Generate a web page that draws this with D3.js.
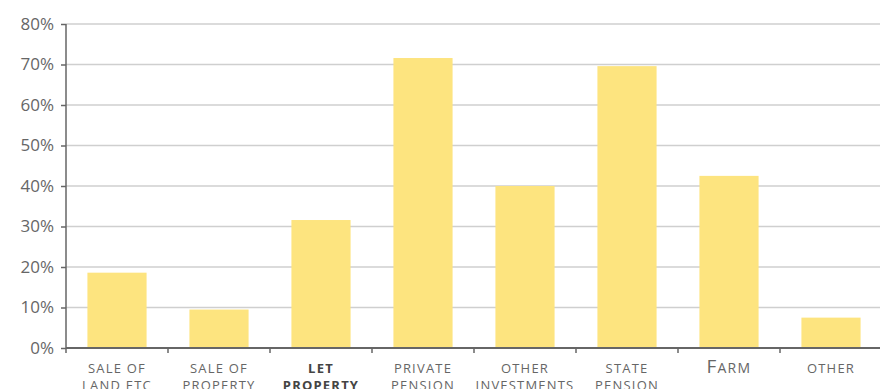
<!DOCTYPE html>
<html><head><meta charset="utf-8">
<script src="https://cdn.jsdelivr.net/npm/d3@7"></script>
<style>body{margin:0;background:#fff;overflow:hidden}</style>
</head><body>
<script>
const categories = ["Sale of|land etc","Sale of|property","Let|property","Private|pension","Other|investments","State|pension","Farm","Other"];
const values = [18.6, 9.5, 31.6, 71.6, 40.0, 69.6, 42.5, 7.5];
const boldCats = ["Let|property"];
const yTicks = [0,10,20,30,40,50,60,70,80];

const W = 880, H = 389;
const m = {l:66, r:0, t:24, b:41};
const svg = d3.select("body").append("svg").attr("width",W).attr("height",H);
const x = d3.scaleBand().domain(categories).range([m.l, 882]).padding(0);
const y = d3.scaleLinear().domain([0,80]).range([H-m.b, m.t]);

// gridlines
svg.append("g").selectAll("line").data(yTicks.filter(d=>d>0)).join("line")
  .attr("x1",m.l).attr("x2",W).attr("y1",d=>y(d)).attr("y2",d=>y(d))
  .attr("stroke","#cfcfcf").attr("stroke-width",1.5);

// bars
const bw = x.bandwidth()*0.58;
svg.append("g").selectAll("rect").data(values).join("rect")
  .attr("x",(d,i)=>x(categories[i])+x.bandwidth()/2-bw/2)
  .attr("width",bw)
  .attr("y",d=>y(d)).attr("height",d=>y(0)-y(d))
  .attr("fill","#fde47f");

// y axis
const ya = svg.append("g").attr("transform",`translate(${m.l},0)`)
  .call(d3.axisLeft(y).tickValues(yTicks).tickFormat(d=>d+"%").tickSize(5).tickPadding(7));
ya.select(".domain").attr("stroke","#666").attr("stroke-width",1.5).attr("d",`M-0,${y(80)}V${y(0)}`);
ya.selectAll(".tick line").attr("stroke","#666").attr("stroke-width",1.5);
ya.selectAll(".tick text").attr("fill","#666").style("font-family","'Open Sans', sans-serif").style("font-size","17px");

// x axis
const xa = svg.append("g").attr("transform",`translate(0,${y(0)})`);
xa.append("line").attr("x1",m.l).attr("x2",W).attr("y1",0).attr("y2",0).attr("stroke","#666").attr("stroke-width",2);
xa.selectAll("line.tk").data(categories).join("line").attr("class","tk")
  .attr("x1",d=>x(d)).attr("x2",d=>x(d)).attr("y1",0).attr("y2",5)
  .attr("stroke","#666").attr("stroke-width",1.5);
const lab = xa.selectAll("text").data(categories).join("text")
  .attr("x",d=>x(d)+x.bandwidth()/2).attr("y",25)
  .attr("text-anchor","middle").attr("fill",d=>boldCats.includes(d)?"#444":"#666")
  .style("font-family","'Open Sans', sans-serif").style("font-size","13px")
  .style("font-weight",d=>boldCats.includes(d)?"700":"400")
  .style("letter-spacing","1.2px");
lab.each(function(d){
  const t = d3.select(this);
  if (d === "Farm") {
    t.append("tspan").style("font-size","19px").style("letter-spacing","1px").text("F");
    t.append("tspan").style("font-size","14px").style("letter-spacing","1.3px").text("ARM");
    return;
  }
  const parts = d.split("|");
  parts.forEach((p,i)=>{
    t.append("tspan").attr("x",x(d)+x.bandwidth()/2).attr("dy",i===0?0:17)
     .text(p.toUpperCase());
  });
});
</script>
</body></html>
